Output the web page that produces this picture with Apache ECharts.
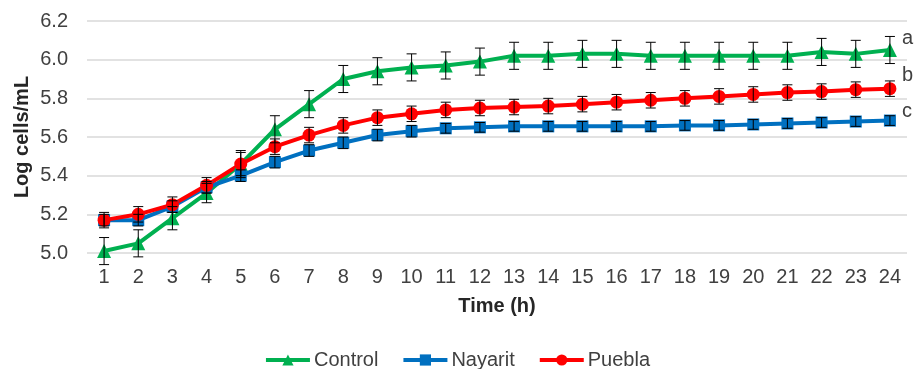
<!DOCTYPE html>
<html>
<head>
<meta charset="utf-8">
<script src="https://cdn.jsdelivr.net/npm/echarts@6/dist/echarts.min.js"></script>
<style>
  html, body { margin: 0; padding: 0; background: #fff; }
  #chart { width: 914px; height: 369px; }
</style>
</head>
<body>
<div id="chart"></div>
<script>
const hours = ['1', '2', '3', '4', '5', '6', '7', '8', '9', '10', '11', '12',
  '13', '14', '15', '16', '17', '18', '19', '20', '21', '22', '23', '24'];

const control = [5.01, 5.05, 5.18, 5.31, 5.46, 5.64, 5.77, 5.90, 5.94, 5.96, 5.97, 5.99,
  6.02, 6.02, 6.03, 6.03, 6.02, 6.02, 6.02, 6.02, 6.02, 6.04, 6.03, 6.05];
const controlErr = [0.07, 0.07, 0.06, 0.05, 0.06, 0.07, 0.07, 0.07, 0.07, 0.07, 0.07, 0.07,
  0.07, 0.07, 0.07, 0.07, 0.07, 0.07, 0.07, 0.07, 0.07, 0.07, 0.07, 0.07];

const nayarit = [5.17, 5.17, 5.24, 5.34, 5.40, 5.47, 5.53, 5.57, 5.61, 5.63, 5.645, 5.65,
  5.655, 5.655, 5.655, 5.655, 5.655, 5.66, 5.66, 5.665, 5.67, 5.675, 5.68, 5.685];
const nayaritErr = [0.03, 0.03, 0.03, 0.03, 0.03, 0.03, 0.03, 0.03, 0.03, 0.03, 0.025, 0.025,
  0.025, 0.025, 0.025, 0.025, 0.025, 0.025, 0.025, 0.025, 0.025, 0.025, 0.025, 0.025];

const puebla = [5.17, 5.20, 5.25, 5.35, 5.46, 5.55, 5.61, 5.66, 5.70, 5.72, 5.74, 5.75,
  5.755, 5.76, 5.77, 5.78, 5.79, 5.80, 5.81, 5.82, 5.83, 5.835, 5.845, 5.85];
const pueblaErr = [0.04, 0.04, 0.04, 0.04, 0.07, 0.04, 0.04, 0.04, 0.04, 0.04, 0.04, 0.04,
  0.04, 0.04, 0.04, 0.04, 0.04, 0.04, 0.04, 0.04, 0.04, 0.04, 0.04, 0.04];

const groupLetters = ['a', 'c', 'b'];

let chart = echarts.init(document.getElementById('chart'));

const errData = (vals, errs) => vals.map((v, i) => [i, v - errs[i], v + errs[i]]);

// error bars with caps
const errorBars = (vals, errs) => ({
  type: 'custom',
  z: 5,
  silent: true,
  renderItem: (params, api) => {
    let lo = api.coord([api.value(0), api.value(1)]);
    let hi = api.coord([api.value(0), api.value(2)]);
    let w = 5;
    let style = { stroke: '#000', lineWidth: 1 };
    return {
      type: 'group',
      children: [
        { type: 'line', shape: { x1: lo[0], y1: lo[1], x2: hi[0], y2: hi[1] }, style },
        { type: 'line', shape: { x1: lo[0] - w, y1: lo[1], x2: lo[0] + w, y2: lo[1] }, style },
        { type: 'line', shape: { x1: hi[0] - w, y1: hi[1], x2: hi[0] + w, y2: hi[1] }, style }
      ]
    };
  },
  data: errData(vals, errs)
});

const lineSeries = (name, vals, color, symbol, size, letter, dy) => ({
  name: name,
  type: 'line',
  data: vals,
  symbol: symbol,
  symbolSize: size,
  z: 3,
  lineStyle: { color: color, width: 4 },
  itemStyle: { color: color },
  endLabel: {
    show: true,
    formatter: letter,
    color: '#404040',
    fontSize: 20,
    fontFamily: 'Liberation Sans',
    offset: [4, dy]
  }
});

let option = {
  animation: false,
  grid: { left: 87, right: 7, top: 21, bottom: 116 },
  legend: {
    data: ['Control', 'Nayarit', 'Puebla'],
    bottom: -6,
    left: 'center',
    itemWidth: 44,
    itemHeight: 14,
    itemGap: 23,
    lineStyle: { width: 4 },
    textStyle: { color: '#404040', fontSize: 20, fontFamily: 'Liberation Sans', padding: [0, 0, 0, -1] }
  },
  xAxis: {
    type: 'category',
    data: hours,
    name: 'Time (h)',
    nameLocation: 'middle',
    nameGap: 43,
    nameMoveOverlap: false,
    nameTextStyle: { color: '#262626', fontSize: 20, fontWeight: 'bold', fontFamily: 'Liberation Sans' },
    axisLine: { show: false },
    axisTick: { show: false },
    axisLabel: { color: '#404040', fontSize: 20, fontFamily: 'Liberation Sans', margin: 14 }
  },
  yAxis: {
    type: 'value',
    min: 5.0,
    max: 6.2,
    interval: 0.2,
    name: 'Log cells/mL',
    nameLocation: 'middle',
    nameGap: 55,
    nameMoveOverlap: false,
    nameTextStyle: { color: '#262626', fontSize: 20, fontWeight: 'bold', fontFamily: 'Liberation Sans' },
    axisLabel: { color: '#404040', fontSize: 20, fontFamily: 'Liberation Sans', margin: 19,
      formatter: v => v.toFixed(1) },
    splitLine: { lineStyle: { color: '#d9d9d9', width: 1.5 } }
  },
  series: [
    lineSeries('Control', control, '#00B050', 'triangle', 14, groupLetters[0], -12),
    lineSeries('Nayarit', nayarit, '#0070C0', 'rect', 12, groupLetters[1], -9),
    lineSeries('Puebla', puebla, '#FF0000', 'circle', 13, groupLetters[2], -13),
    errorBars(control, controlErr),
    errorBars(nayarit, nayaritErr),
    errorBars(puebla, pueblaErr)
  ]
};

chart.setOption(option);
</script>
</body>
</html>
